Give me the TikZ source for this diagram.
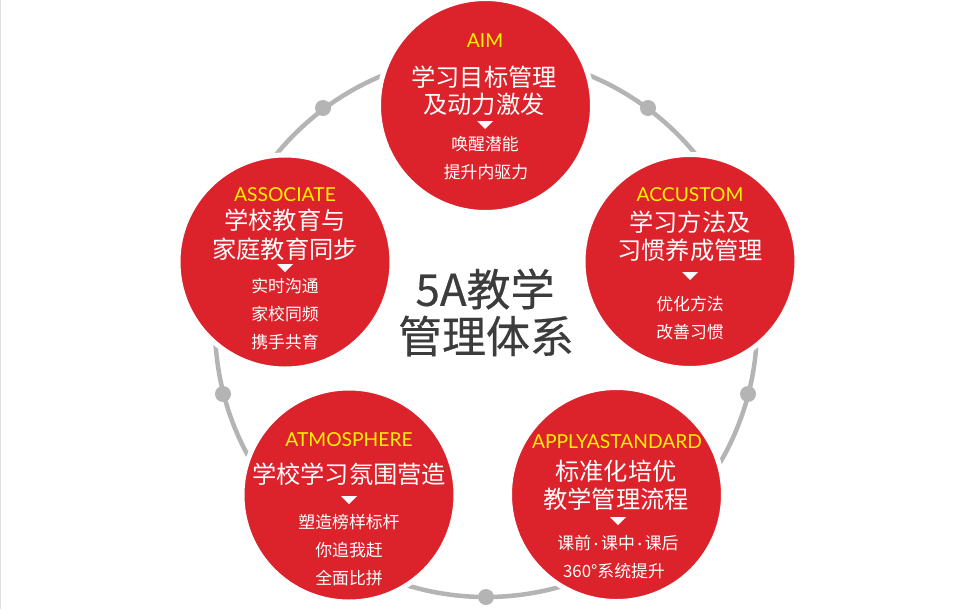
\documentclass[tikz,border=0pt]{standalone}
\usepackage{fontspec}
\setmainfont{Noto Sans CJK SC}
\newfontfamily\tagfont{Lato}
\newfontfamily\titlefont[FakeBold=0.5]{Noto Sans CJK SC}
\definecolor{ballred}{HTML}{DC222B}
\definecolor{ringgray}{HTML}{B4B4B4}
\definecolor{titlegray}{HTML}{3C3C3C}
\definecolor{tagyellow}{HTML}{FFF200}
\tikzset{
	ball/.style={circle,fill=ballred,draw=white,line width=5*0.02cm,inner sep=0pt,minimum size=214*0.02cm},
	ringdot/.style={circle,fill=ringgray,inner sep=0pt,minimum size=16*0.02cm},
	tagtext/.style={text=tagyellow,font=\tagfont\fontsize{10.95}{12}\selectfont,inner sep=0pt},
	headtext/.style={text=white,font=\fontsize{13.8}{16}\selectfont,inner sep=0pt},
	subtext/.style={text=white,font=\fontsize{9.6}{12}\selectfont,inner sep=0pt},
	titletext/.style={text=titlegray,font=\titlefont\fontsize{25}{30}\selectfont,inner sep=0pt},
}
\newcommand{\downmark}[2]{\fill[white] (#1-8,#2-4)--(#1+8,#2-4)--(#1,#2+4)--cycle;}
\begin{document}
\begin{tikzpicture}[x=0.02cm,y=-0.02cm]
	\useasboundingbox (0,0) rectangle (980,609);
	\fill[white] (0,0) rectangle (980,609);
	\fill[black!12] (0,0) rectangle (1.2,609);
	% ring and its dots
	\node[circle,draw=ringgray,line width=4.5*0.02cm,inner sep=0pt,minimum size=542*0.02cm] (ring) at (486,326) {};
	\foreach \a/\b [count=\i] in {323/108,648/108,748/394,486/597,223/394}
		\node[ringdot] (dot\i) at (\a,\b) {};
	% five balls
	\node[ball] (aim) at (485.5,105.5) {};
	\node[ball] (accustom) at (690,261.5) {};
	\node[ball] (apply) at (616.5,494.5) {};
	\node[ball] (atmosphere) at (349,495) {};
	\node[ball] (associate) at (285,262) {};
	% top
	\node[tagtext] (aimtag) at (485,41) {AIM};
	\node[headtext] (aimhead1) at (484,77) {学习目标管理};
	\node[headtext] (aimhead2) at (484,104) {及动力激发};
	\downmark{485}{125}
	\node[subtext] (aimsub1) at (485,144) {唤醒潜能};
	\node[subtext] (aimsub2) at (486,172) {提升内驱力};
	% right
	\node[tagtext] (accustomtag) at (690,195) {ACCUSTOM};
	\node[headtext] (accustomhead1) at (690,222) {学习方法及};
	\node[headtext] (accustomhead2) at (690,250) {习惯养成管理};
	\downmark{690}{276}
	\node[subtext] (accustomsub1) at (690,304) {优化方法};
	\node[subtext] (accustomsub2) at (690,332) {改善习惯};
	% bottom right
	\node[tagtext] (applytag) at (617,442) {APPLYASTANDARD};
	\node[headtext] (applyhead1) at (616,471) {标准化培优};
	\node[headtext] (applyhead2) at (616,499) {教学管理流程};
	\downmark{618}{521}
	\node[subtext] (applysub1) at (618,543) {课前{\tagfont\,·\,}课中{\tagfont\,·\,}课后};
	\node[subtext] (applysub2) at (614,571) {360°系统提升};
	% bottom left
	\node[tagtext] (atmospheretag) at (349,440) {ATMOSPHERE};
	\node[headtext] (atmospherehead) at (349,474) {学校学习氛围营造};
	\downmark{349}{500}
	\node[subtext] (atmospheresub1) at (349,522) {塑造榜样标杆};
	\node[subtext] (atmospheresub2) at (349,550) {你追我赶};
	\node[subtext] (atmospheresub3) at (349,578) {全面比拼};
	% left
	\node[tagtext] (associatetag) at (285,195) {ASSOCIATE};
	\node[headtext] (associatehead1) at (285,220) {学校教育与};
	\node[headtext] (associatehead2) at (285,249) {家庭教育同步};
	\downmark{285}{268}
	\node[subtext] (associatesub1) at (285,286) {实时沟通};
	\node[subtext] (associatesub2) at (285,314) {家校同频};
	\node[subtext] (associatesub3) at (285,342) {携手共育};
	% centre title
	\node[titletext] (title1) at (485,289) {5A教学};
	\node[titletext] (title2) at (486,336) {管理体系};
\end{tikzpicture}
\end{document}
